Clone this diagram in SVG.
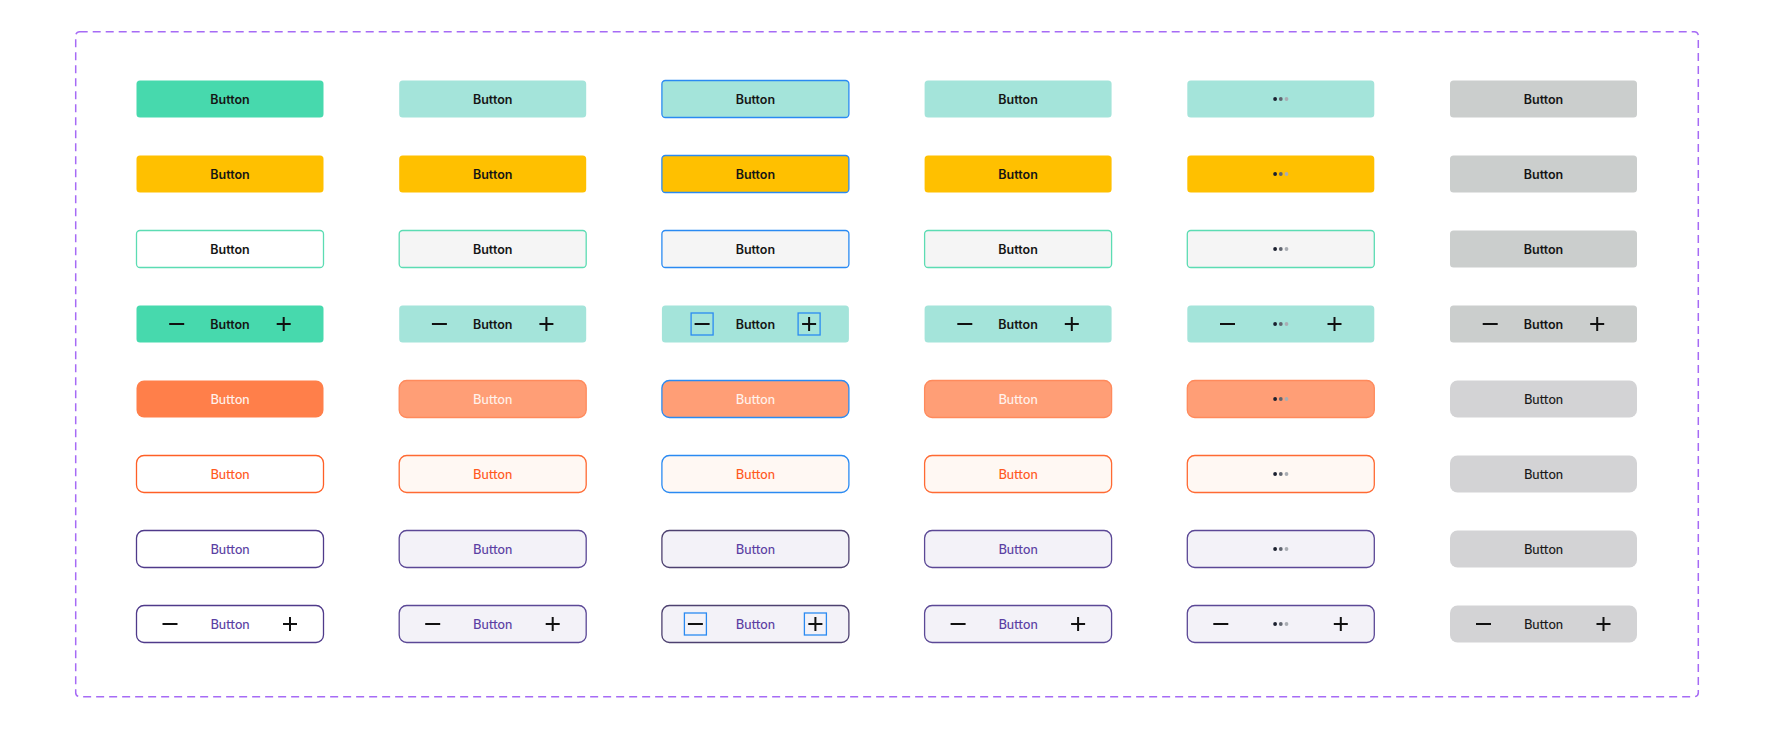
<svg xmlns="http://www.w3.org/2000/svg" xmlns:xlink="http://www.w3.org/1999/xlink" width="1774" height="753" viewBox="0 0 1774 753">
<style>
.bg{fill:#ffffff}
.frame{fill:none;stroke:#a66bf5;stroke-width:1.5;stroke-dasharray:8 5}
.b{stroke-width:1.3}
.sq{rx:3.5;ry:3.5}
.rd{rx:7.5;ry:7.5}
.t1{font-family:Inter,"Liberation Sans",sans-serif;font-weight:600;font-size:12.5px;fill:#151515;text-anchor:middle}
.t2{font-family:Lato,"Open Sans","Liberation Sans",sans-serif;font-weight:500;font-size:13px;text-anchor:middle}
.white{fill:#fff2ec}
.orange{fill:#ff5a1f}
.purple{fill:#5b3fa3}
.dark{fill:#1a1a1a}
.ico{stroke:#111;stroke-width:2;fill:none}
.focus{fill:none;stroke:#2a8af2;stroke-width:1.3}
.d1{fill:#1a1f2e}.d2{fill:#60656f}.d3{fill:#a9adb3}
</style>
<defs>
<path id="minus" class="ico" d="M-7.5 0H7.5"/>
<path id="plus" class="ico" d="M-7 0H7M0 -7V7"/>
<g id="dots"><circle class="d1" cx="-5.7" cy="0" r="1.9"/><circle class="d2" cx="0" cy="0" r="1.9"/><circle class="d3" cx="5.7" cy="0" r="1.9"/></g>
<rect id="fbox" class="focus" x="-11" y="-11" width="22" height="22"/>
</defs>
<rect class="bg" width="1774" height="753"/>
<rect class="frame" x="75.7" y="31.7" width="1622.6" height="665" rx="4" ry="4"/>

<!-- Row 1 -->
<g id="r1c1" transform="translate(230,99)"><rect class="sq" x="-93.5" y="-18.5" width="187" height="37" fill="#47d9ad"/><text class="t1" y="4.5">Button</text></g>
<g id="r1c2" transform="translate(492.7,99)"><rect class="sq" x="-93.5" y="-18.5" width="187" height="37" fill="#a4e4da"/><text class="t1" y="4.5">Button</text></g>
<g id="r1c3" transform="translate(755.4,99)"><rect class="sq b" x="-93.5" y="-18.5" width="187" height="37" fill="#a4e4da" stroke="#2a8af2"/><text class="t1" y="4.5">Button</text></g>
<g id="r1c4" transform="translate(1018.1,99)"><rect class="sq" x="-93.5" y="-18.5" width="187" height="37" fill="#a4e4da"/><text class="t1" y="4.5">Button</text></g>
<g id="r1c5" transform="translate(1280.8,99)"><rect class="sq" x="-93.5" y="-18.5" width="187" height="37" fill="#a4e4da"/><use xlink:href="#dots"/></g>
<g id="r1c6" transform="translate(1543.5,99)"><rect class="sq" x="-93.5" y="-18.5" width="187" height="37" fill="#cbcecd"/><text class="t1" y="4.5">Button</text></g>

<!-- Row 2 -->
<g id="r2c1" transform="translate(230,174)"><rect class="sq" x="-93.5" y="-18.5" width="187" height="37" fill="#ffc000"/><text class="t1" y="4.5">Button</text></g>
<g id="r2c2" transform="translate(492.7,174)"><rect class="sq" x="-93.5" y="-18.5" width="187" height="37" fill="#ffc000"/><text class="t1" y="4.5">Button</text></g>
<g id="r2c3" transform="translate(755.4,174)"><rect class="sq b" x="-93.5" y="-18.5" width="187" height="37" fill="#ffc000" stroke="#2a8af2"/><text class="t1" y="4.5">Button</text></g>
<g id="r2c4" transform="translate(1018.1,174)"><rect class="sq" x="-93.5" y="-18.5" width="187" height="37" fill="#ffc000"/><text class="t1" y="4.5">Button</text></g>
<g id="r2c5" transform="translate(1280.8,174)"><rect class="sq" x="-93.5" y="-18.5" width="187" height="37" fill="#ffc000"/><use xlink:href="#dots"/></g>
<g id="r2c6" transform="translate(1543.5,174)"><rect class="sq" x="-93.5" y="-18.5" width="187" height="37" fill="#cbcecd"/><text class="t1" y="4.5">Button</text></g>

<!-- Row 3 -->
<g id="r3c1" transform="translate(230,249)"><rect class="sq b" x="-93.5" y="-18.5" width="187" height="37" fill="#ffffff" stroke="#5cdcb3"/><text class="t1" y="4.5">Button</text></g>
<g id="r3c2" transform="translate(492.7,249)"><rect class="sq b" x="-93.5" y="-18.5" width="187" height="37" fill="#f5f5f5" stroke="#5cdcb3"/><text class="t1" y="4.5">Button</text></g>
<g id="r3c3" transform="translate(755.4,249)"><rect class="sq b" x="-93.5" y="-18.5" width="187" height="37" fill="#f5f5f5" stroke="#2a8af2"/><text class="t1" y="4.5">Button</text></g>
<g id="r3c4" transform="translate(1018.1,249)"><rect class="sq b" x="-93.5" y="-18.5" width="187" height="37" fill="#f5f5f5" stroke="#5cdcb3"/><text class="t1" y="4.5">Button</text></g>
<g id="r3c5" transform="translate(1280.8,249)"><rect class="sq b" x="-93.5" y="-18.5" width="187" height="37" fill="#f5f5f5" stroke="#5cdcb3"/><use xlink:href="#dots"/></g>
<g id="r3c6" transform="translate(1543.5,249)"><rect class="sq" x="-93.5" y="-18.5" width="187" height="37" fill="#cbcecd"/><text class="t1" y="4.5">Button</text></g>

<!-- Row 4 -->
<g id="r4c1" transform="translate(230,324)"><rect class="sq" x="-93.5" y="-18.5" width="187" height="37" fill="#47d9ad"/><use xlink:href="#minus" x="-53.3"/><text class="t1" y="4.5">Button</text><use xlink:href="#plus" x="53.7"/></g>
<g id="r4c2" transform="translate(492.7,324)"><rect class="sq" x="-93.5" y="-18.5" width="187" height="37" fill="#a4e4da"/><use xlink:href="#minus" x="-53.3"/><text class="t1" y="4.5">Button</text><use xlink:href="#plus" x="53.7"/></g>
<g id="r4c3" transform="translate(755.4,324)"><rect class="sq" x="-93.5" y="-18.5" width="187" height="37" fill="#a4e4da"/><use xlink:href="#fbox" x="-53.3"/><use xlink:href="#minus" x="-53.3"/><text class="t1" y="4.5">Button</text><use xlink:href="#fbox" x="53.7"/><use xlink:href="#plus" x="53.7"/></g>
<g id="r4c4" transform="translate(1018.1,324)"><rect class="sq" x="-93.5" y="-18.5" width="187" height="37" fill="#a4e4da"/><use xlink:href="#minus" x="-53.3"/><text class="t1" y="4.5">Button</text><use xlink:href="#plus" x="53.7"/></g>
<g id="r4c5" transform="translate(1280.8,324)"><rect class="sq" x="-93.5" y="-18.5" width="187" height="37" fill="#a4e4da"/><use xlink:href="#minus" x="-53.3"/><use xlink:href="#dots"/><use xlink:href="#plus" x="53.7"/></g>
<g id="r4c6" transform="translate(1543.5,324)"><rect class="sq" x="-93.5" y="-18.5" width="187" height="37" fill="#cbcecd"/><use xlink:href="#minus" x="-53.3"/><text class="t1" y="4.5">Button</text><use xlink:href="#plus" x="53.7"/></g>

<!-- Row 5 -->
<g id="r5c1" transform="translate(230,399)"><rect class="rd" x="-93.5" y="-18.5" width="187" height="37" fill="#ff7f4a"/><text class="t2 white" y="4.5">Button</text></g>
<g id="r5c2" transform="translate(492.7,399)"><rect class="rd b" x="-93.5" y="-18.5" width="187" height="37" fill="#ff9e76" stroke="#ff8a5c"/><text class="t2 white" y="4.5">Button</text></g>
<g id="r5c3" transform="translate(755.4,399)"><rect class="rd b" x="-93.5" y="-18.5" width="187" height="37" fill="#ff9e76" stroke="#2a8af2"/><text class="t2 white" y="4.5">Button</text></g>
<g id="r5c4" transform="translate(1018.1,399)"><rect class="rd b" x="-93.5" y="-18.5" width="187" height="37" fill="#ff9e76" stroke="#ff8a5c"/><text class="t2 white" y="4.5">Button</text></g>
<g id="r5c5" transform="translate(1280.8,399)"><rect class="rd b" x="-93.5" y="-18.5" width="187" height="37" fill="#ff9e76" stroke="#ff8a5c"/><use xlink:href="#dots"/></g>
<g id="r5c6" transform="translate(1543.5,399)"><rect class="rd" x="-93.5" y="-18.5" width="187" height="37" fill="#d3d3d5"/><text class="t2 dark" y="4.5">Button</text></g>

<!-- Row 6 -->
<g id="r6c1" transform="translate(230,474)"><rect class="rd b" x="-93.5" y="-18.5" width="187" height="37" fill="#ffffff" stroke="#ff5f26"/><text class="t2 orange" y="4.5">Button</text></g>
<g id="r6c2" transform="translate(492.7,474)"><rect class="rd b" x="-93.5" y="-18.5" width="187" height="37" fill="#fff8f3" stroke="#ff6a33"/><text class="t2 orange" y="4.5">Button</text></g>
<g id="r6c3" transform="translate(755.4,474)"><rect class="rd b" x="-93.5" y="-18.5" width="187" height="37" fill="#fff8f3" stroke="#2a8af2"/><text class="t2 orange" y="4.5">Button</text></g>
<g id="r6c4" transform="translate(1018.1,474)"><rect class="rd b" x="-93.5" y="-18.5" width="187" height="37" fill="#fff8f3" stroke="#ff6a33"/><text class="t2 orange" y="4.5">Button</text></g>
<g id="r6c5" transform="translate(1280.8,474)"><rect class="rd b" x="-93.5" y="-18.5" width="187" height="37" fill="#fff8f3" stroke="#ff6a33"/><use xlink:href="#dots"/></g>
<g id="r6c6" transform="translate(1543.5,474)"><rect class="rd" x="-93.5" y="-18.5" width="187" height="37" fill="#d3d3d5"/><text class="t2 dark" y="4.5">Button</text></g>

<!-- Row 7 -->
<g id="r7c1" transform="translate(230,549)"><rect class="rd b" x="-93.5" y="-18.5" width="187" height="37" fill="#ffffff" stroke="#4f3a8a"/><text class="t2 purple" y="4.5">Button</text></g>
<g id="r7c2" transform="translate(492.7,549)"><rect class="rd b" x="-93.5" y="-18.5" width="187" height="37" fill="#f3f2f8" stroke="#5b4896"/><text class="t2 purple" y="4.5">Button</text></g>
<g id="r7c3" transform="translate(755.4,549)"><rect class="rd b" x="-93.5" y="-18.5" width="187" height="37" fill="#f3f2f8" stroke="#4d4170"/><text class="t2 purple" y="4.5">Button</text></g>
<g id="r7c4" transform="translate(1018.1,549)"><rect class="rd b" x="-93.5" y="-18.5" width="187" height="37" fill="#f3f2f8" stroke="#5b4896"/><text class="t2 purple" y="4.5">Button</text></g>
<g id="r7c5" transform="translate(1280.8,549)"><rect class="rd b" x="-93.5" y="-18.5" width="187" height="37" fill="#f3f2f8" stroke="#5b4896"/><use xlink:href="#dots"/></g>
<g id="r7c6" transform="translate(1543.5,549)"><rect class="rd" x="-93.5" y="-18.5" width="187" height="37" fill="#d3d3d5"/><text class="t2 dark" y="4.5">Button</text></g>

<!-- Row 8 -->
<g id="r8c1" transform="translate(230,624)"><rect class="rd b" x="-93.5" y="-18.5" width="187" height="37" fill="#ffffff" stroke="#4f3a8a"/><use xlink:href="#minus" x="-60"/><text class="t2 purple" y="4.5">Button</text><use xlink:href="#plus" x="60"/></g>
<g id="r8c2" transform="translate(492.7,624)"><rect class="rd b" x="-93.5" y="-18.5" width="187" height="37" fill="#f3f2f8" stroke="#5b4896"/><use xlink:href="#minus" x="-60"/><text class="t2 purple" y="4.5">Button</text><use xlink:href="#plus" x="60"/></g>
<g id="r8c3" transform="translate(755.4,624)"><rect class="rd b" x="-93.5" y="-18.5" width="187" height="37" fill="#f3f2f8" stroke="#4d4170"/><use xlink:href="#fbox" x="-60"/><use xlink:href="#minus" x="-60"/><text class="t2 purple" y="4.5">Button</text><use xlink:href="#fbox" x="60"/><use xlink:href="#plus" x="60"/></g>
<g id="r8c4" transform="translate(1018.1,624)"><rect class="rd b" x="-93.5" y="-18.5" width="187" height="37" fill="#f3f2f8" stroke="#5b4896"/><use xlink:href="#minus" x="-60"/><text class="t2 purple" y="4.5">Button</text><use xlink:href="#plus" x="60"/></g>
<g id="r8c5" transform="translate(1280.8,624)"><rect class="rd b" x="-93.5" y="-18.5" width="187" height="37" fill="#f3f2f8" stroke="#5b4896"/><use xlink:href="#minus" x="-60"/><use xlink:href="#dots"/><use xlink:href="#plus" x="60"/></g>
<g id="r8c6" transform="translate(1543.5,624)"><rect class="rd" x="-93.5" y="-18.5" width="187" height="37" fill="#d3d3d5"/><use xlink:href="#minus" x="-60"/><text class="t2 dark" y="4.5">Button</text><use xlink:href="#plus" x="60"/></g>

<g id="connectors"></g>
</svg>
